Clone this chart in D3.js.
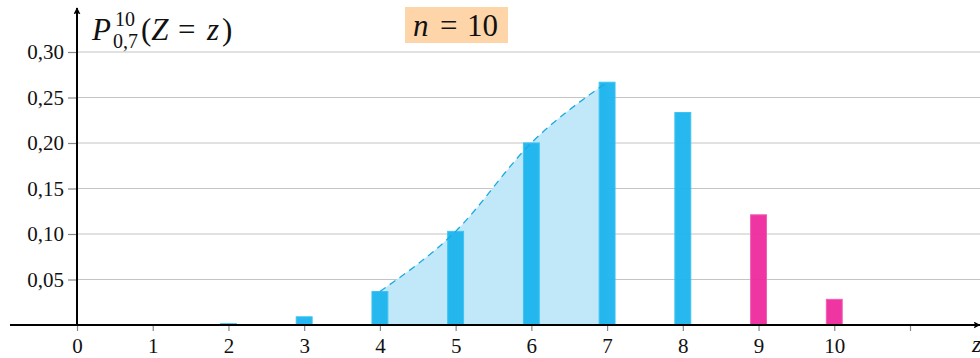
<!DOCTYPE html>
<html>
<head>
<meta charset="utf-8">
<script src="https://cdn.jsdelivr.net/npm/d3@7"></script>
<style>
body { margin: 0; background: #fff; }
svg { display: block; }
text { font-family: "Liberation Serif", "DejaVu Serif", serif; fill: #111; }
</style>
</head>
<body>
<div class="container"></div>
<script>
const width = 980,
    height = 358;

// binomial distribution n = 10, p = 0.7
const outcomes = [0, 1, 2, 3, 4, 5, 6, 7, 8, 9, 10];
const probs = [0.0000059, 0.000138, 0.00145, 0.0090, 0.0368, 0.1029, 0.2001, 0.2668, 0.2335, 0.1211, 0.0282];
const highlighted = [9, 10];
const shaded = [4, 5, 6, 7];
const yTicks = [0.05, 0.10, 0.15, 0.20, 0.25, 0.30];
const xTicks = [0, 1, 2, 3, 4, 5, 6, 7, 8, 9, 10, 11];

const x = d3.scaleLinear().domain([0, 11]).range([77, 910]);
const y = d3.scaleLinear().domain([0, 0.30]).range([325, 52]);
const barW = x(0.21) - x(0);

const svg = d3.select('.container')
    .append('svg')
    .attr('width', width)
    .attr('height', height);

// grid
svg.append('g')
    .selectAll('line')
    .data(yTicks)
    .enter()
    .append('line')
    .attr('x1', x(0))
    .attr('x2', width)
    .attr('y1', d => y(d))
    .attr('y2', d => y(d))
    .attr('stroke', '#c4c4c4')
    .attr('stroke-width', 1.2);

// y axis ticks + labels
const yAxis = svg.append('g')
    .attr('transform', `translate(${x(0)},0)`)
    .call(d3.axisLeft(y)
        .tickValues(yTicks)
        .tickSize(9)
        .tickPadding(4)
        .tickFormat(d => d3.format('.2f')(d).replace('.', ',')));
yAxis.select('.domain').remove();
yAxis.selectAll('.tick line').attr('stroke', '#888').attr('stroke-width', 1.2);
yAxis.selectAll('.tick text')
    .attr('font-size', 21)
    .attr('font-family', '"Liberation Serif", serif')
    .attr('fill', '#111');

// shaded region under curve
const pts = shaded.map(k => [k, probs[k]]);
svg.append('path')
    .datum(pts)
    .attr('d', d3.area()
        .x(d => x(d[0]))
        .y0(y(0))
        .y1(d => y(d[1]))
        .curve(d3.curveMonotoneX))
    .attr('fill', '#c1e8f9');

// bars
svg.append('g')
    .selectAll('rect')
    .data(outcomes)
    .enter()
    .append('rect')
    .attr('x', d => x(d) - barW / 2)
    .attr('y', d => y(probs[d]))
    .attr('width', barW)
    .attr('height', d => y(0) - y(probs[d]))
    .attr('fill', d => highlighted.includes(d) ? '#ee2a9c' : '#1ab4ed')
    .attr('fill-opacity', 0.95)
    .attr('stroke', d => highlighted.includes(d) ? '#f25fb2' : '#3fc3f2')
    .attr('stroke-width', 1);

// dashed curve
svg.append('path')
    .datum(pts)
    .attr('d', d3.line()
        .x(d => x(d[0]))
        .y(d => y(d[1]))
        .curve(d3.curveMonotoneX))
    .attr('fill', 'none')
    .attr('stroke', '#1aa9e3')
    .attr('stroke-width', 1.3)
    .attr('stroke-dasharray', '7,5');

// x axis ticks + labels
const xAxis = svg.append('g')
    .attr('transform', `translate(0,${y(0)})`)
    .call(d3.axisBottom(x)
        .tickValues(xTicks)
        .tickSize(6)
        .tickPadding(7)
        .tickFormat(d => d <= 10 ? d : ''));
xAxis.select('.domain').remove();
xAxis.selectAll('.tick line').attr('stroke', '#888').attr('stroke-width', 1.2);
xAxis.selectAll('.tick text')
    .attr('font-size', 21)
    .attr('font-family', '"Liberation Serif", serif')
    .attr('fill', '#111');

// axes lines with arrows
svg.append('defs').append('marker')
    .attr('id', 'arrow')
    .attr('viewBox', '0 0 10 10')
    .attr('refX', 9)
    .attr('refY', 5)
    .attr('markerWidth', 7)
    .attr('markerHeight', 7)
    .attr('markerUnits', 'userSpaceOnUse')
    .attr('orient', 'auto')
    .append('path')
    .attr('d', 'M0,0 L10,5 L0,10 L2,5 Z')
    .attr('fill', '#000');

svg.append('line')
    .attr('x1', x(-0.885)).attr('x2', width)
    .attr('y1', y(0)).attr('y2', y(0))
    .attr('stroke', '#000').attr('stroke-width', 2)
    .attr('marker-end', 'url(#arrow)');

svg.append('line')
    .attr('x1', x(0)).attr('x2', x(0))
    .attr('y1', y(0) + 1).attr('y2', 8)
    .attr('stroke', '#000').attr('stroke-width', 2)
    .attr('marker-end', 'url(#arrow)');

svg.append('text')
    .attr('x', 972)
    .attr('y', 352)
    .attr('font-size', 24)
    .attr('font-style', 'italic')
    .text('z');

// y label
const lab = svg.append('text')
    .attr('y', 40)
    .attr('font-size', 31);
lab.append('tspan').attr('x', 92).attr('font-style', 'italic').text('P');
lab.append('tspan').attr('font-size', 20).attr('x', 115).attr('y', 26).text('10');
lab.append('tspan').attr('font-size', 20).attr('x', 113).attr('y', 48).text('0,7');
lab.append('tspan').attr('x', 141).attr('y', 40).text('(');
lab.append('tspan').attr('font-style', 'italic').text('Z');
lab.append('tspan').attr('x', 178).text('=');
lab.append('tspan').attr('x', 207).attr('font-style', 'italic').text('z');
lab.append('tspan').attr('x', 222).text(')');

// n box
svg.append('rect')
    .attr('x', 405).attr('y', 7)
    .attr('width', 103).attr('height', 36)
    .attr('fill', '#fdd5a9');
const nt = svg.append('text')
    .attr('y', 36)
    .attr('font-size', 31);
nt.append('tspan').attr('x', 413).attr('font-style', 'italic').text('n');
nt.append('tspan').attr('x', 440).text('=');
nt.append('tspan').attr('x', 467).text('10');
</script>
</body>
</html>
